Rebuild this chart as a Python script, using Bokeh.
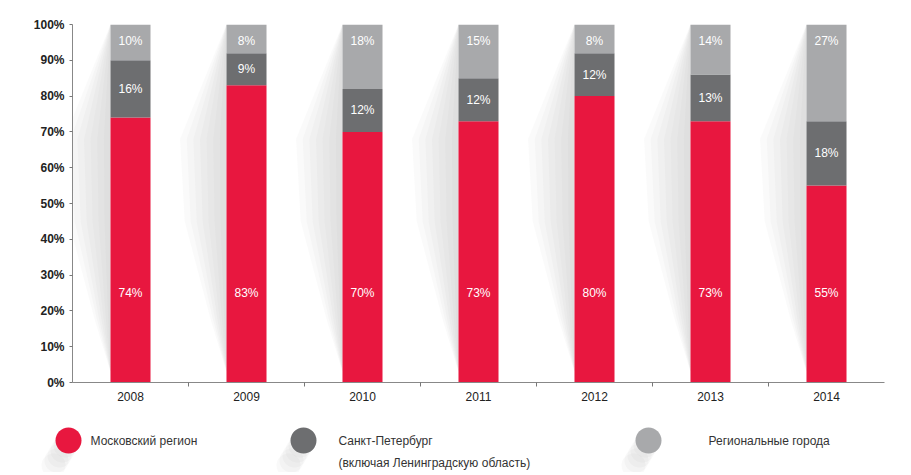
from bokeh.plotting import figure
from bokeh.models import ColumnDataSource, FixedTicker, Range1d
from bokeh.core.properties import value
from bokeh.embed import file_html
from bokeh.resources import INLINE

years = ["2008", "2009", "2010", "2011", "2012", "2013", "2014"]
moscow = [74, 83, 70, 73, 80, 73, 55]
spb = [16, 9, 12, 12, 12, 13, 18]
regions = [10, 8, 18, 15, 8, 14, 27]
y_ticks = [0, 10, 20, 30, 40, 50, 60, 70, 80, 90, 100]
legend_labels = ["Московский регион", "Санкт-Петербург", "(включая Ленинградскую область)", "Региональные города"]

RED = "#e8173f"
DARK = "#6d6e70"
LIGHT = "#a8a9ab"
FONT = "Liberation Sans"

n = len(years)
xs = [i + 0.5 for i in range(n)]
W = 0.345

tot = [m + s + r for m, s, r in zip(moscow, spb, regions)]
m_top = [m * 100 / t for m, t in zip(moscow, tot)]
s_top = [(m + s) * 100 / t for m, s, t in zip(moscow, spb, tot)]

p = figure(width=903, height=410, output_backend="svg", toolbar_location=None,
           x_range=Range1d(0, n), y_range=Range1d(0, 100),
           min_border_left=72, min_border_right=19, min_border_top=24, min_border_bottom=28)
p.outline_line_color = None
p.xgrid.grid_line_color = None
p.ygrid.grid_line_color = None
p.background_fill_color = "white"

# soft diagonal shadows to the left of each bar
for k in range(7):
    d = 0.40 * (k + 1) / 7
    sx, sy = [], []
    for x in xs:
        L = x - W / 2
        sx.append([L, L - d, L - d * 0.9, L - d * 0.35, L])
        sy.append([100, 68, 45, 18, 3])
    p.patches(sx, sy, fill_color="#9a9a9a", fill_alpha=0.05, line_color=None)

src = ColumnDataSource(dict(x=xs, m=m_top, s=s_top, top=[100] * n,
                            ml=[f"{v}%" for v in moscow], sl=[f"{v}%" for v in spb],
                            rl=[f"{v}%" for v in regions],
                            sy=[(a + b) / 2 for a, b in zip(m_top, s_top)],
                            my=[25] * n, ry=[95.5] * n))
p.vbar(x="x", width=W, bottom=0, top="m", source=src, fill_color=RED, line_color=None)
p.vbar(x="x", width=W, bottom="m", top="s", source=src, fill_color=DARK, line_color=None)
p.vbar(x="x", width=W, bottom="s", top="top", source=src, fill_color=LIGHT, line_color=None)

for col, ycol in (("ml", "my"), ("sl", "sy"), ("rl", "ry")):
    p.text(x="x", y=ycol, text=col, source=src, text_align="center", text_baseline="middle",
           text_color="white", text_font=value(FONT), text_font_size="12px")

p.xaxis.ticker = FixedTicker(ticks=xs, minor_ticks=list(range(1, n)))
p.xaxis.major_label_overrides = {x: y for x, y in zip(xs, years)}
p.xaxis.major_tick_line_color = None
p.xaxis.minor_tick_out = 4
p.xaxis.minor_tick_in = 0
p.xaxis.minor_tick_line_color = "#777777"
p.xaxis.axis_line_color = "#888888"
p.xaxis.major_label_text_font = FONT
p.xaxis.major_label_text_font_size = "12px"
p.xaxis.major_label_text_color = "#222222"
p.xaxis.major_label_standoff = 3

p.yaxis.ticker = FixedTicker(ticks=y_ticks)
p.yaxis.major_label_overrides = {t: f"{t}%" for t in y_ticks}
p.yaxis.minor_tick_line_color = None
p.yaxis.major_tick_in = 0
p.yaxis.major_tick_out = 3
p.yaxis.major_tick_line_color = "#777777"
p.yaxis.axis_line_color = "#888888"
p.yaxis.major_label_text_font = FONT
p.yaxis.major_label_text_font_size = "12px"
p.yaxis.major_label_text_color = "#222222"
p.yaxis.major_label_text_font_style = "bold"
p.yaxis.major_label_standoff = 5

# legend figure (separate root, not frame-aligned with the chart)
lg = figure(width=903, height=62, output_backend="svg", toolbar_location=None,
            x_range=Range1d(0, 903), y_range=Range1d(0, 62),
            min_border=0)
lg.outline_line_color = None
lg.xgrid.grid_line_color = None
lg.ygrid.grid_line_color = None
lg.xaxis.visible = False
lg.yaxis.visible = False

cx = [68, 303, 648]
colors = [RED, DARK, LIGHT]
for k in range(1, 6):
    lg.scatter(x=[c - 3 * k for c in cx], y=[32 - 5 * k] * 3, size=24, marker="circle",
               fill_color="#9a9a9a", fill_alpha=0.06, line_color=None)
lg.scatter(x=cx, y=[32] * 3, size=26, marker="circle", fill_color=colors, line_color=None)
lg.text(x=[90, 338, 338, 708], y=[32, 32, 10, 32], text=legend_labels,
        text_baseline="middle", text_align="left", text_color="#333333",
        text_font=value(FONT), text_font_size="12px")

open("out.html", "w").write(file_html([p, lg], INLINE))
